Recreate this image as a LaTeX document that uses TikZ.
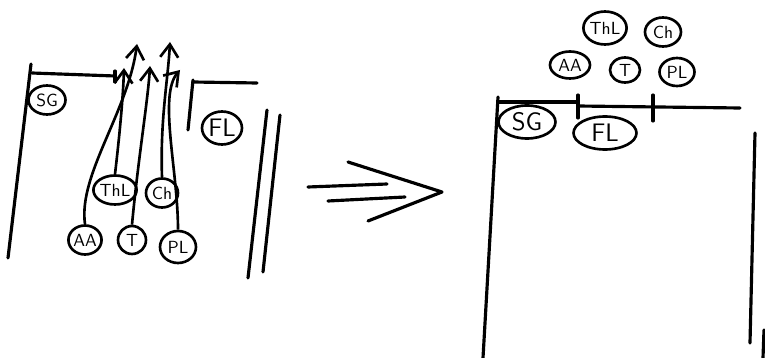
\documentclass[tikz,border=0pt]{standalone}
\usetikzlibrary{shapes.geometric, arrows.meta}
\begin{document}
\begin{tikzpicture}[
  x=0.02cm, y=-0.02cm,
  wall/.style={line width=1.8pt, line cap=round, line join=round},
  tok/.style={ellipse, draw, line width=1.5pt, inner sep=0pt,
              font=\sffamily, minimum width=6.4mm, minimum height=5.8mm},
  bigtok/.style={tok, font=\sffamily\Large},
  mv/.style={-{Straight Barb[length=2.6mm, width=3.6mm, line width=1.5pt]}, line width=1.5pt}
]
\useasboundingbox (0,0) rectangle (765,358);

% left: before
\draw[wall] (31,64) -- (8,258);
\draw[wall] (32,73) -- (115,76);
\draw[wall] (115,71) -- (115,82);
\draw[wall] (193,80) -- (188,130);
\draw[wall] (193,82) -- (257,83);
\draw[wall] (267,110) -- (248,278);
\draw[wall] (280,115) -- (263,272);

\node[tok, minimum width=7.4mm] (sgL) at (47,100) {SG};
\node[bigtok, minimum width=8mm, minimum height=6.6mm] (flL) at (222,128) {FL};
\node[tok] (thlL) at (115,190) {ThL};
\node[tok] (chL)  at (162,193) {Ch};
\node[tok, minimum width=6mm] (aaL) at (85,240) {AA};
\node[tok, minimum width=5.6mm, minimum height=5.6mm] (tL) at (132,240) {T};
\node[tok, minimum width=7.2mm, minimum height=6.4mm] (plL) at (178,247) {PL};

\coordinate (aaOut)  at (137,44);
\coordinate (thlOut) at (124,68);
\coordinate (tOut)   at (150,66);
\coordinate (chOut)  at (170,42);
\coordinate (plOut)  at (180,70);

\draw[mv] (aaL.north) .. controls (78,175) and (128,112) .. (aaOut);
\draw[mv] (thlL.north) .. controls (119,140) and (123,100) .. (thlOut);
\draw[mv] (tL.north) .. controls (138,160) and (148,100) .. (tOut);
\draw[mv] (chL.north) .. controls (160,120) and (168,80) .. (chOut);
\draw[mv] (plL.north) .. controls (178,170) and (158,95) .. (plOut);

% middle
\draw[wall] (308,187) -- (387,184);
\draw[wall] (328,201) -- (405,197);
\draw[wall] (348,162) -- (442,192) -- (368,221);

% right: after
\draw[wall] (498,97) -- (483,358);
\draw[wall] (498,102) -- (578,102);
\draw[wall] (578,106) -- (740,108);
\draw[wall] (578,95) -- (578,118);
\draw[wall] (653,95) -- (653,121);
\draw[wall] (755,133) -- (750,343);
\draw[wall] (764,330) -- (763,358);

\node[tok, minimum width=6.6mm, minimum height=6.6mm] (thlR) at (605,28) {ThL};
\node[tok, minimum width=7.2mm] (chR)  at (663,32) {Ch};
\node[tok, minimum width=8mm, minimum height=5.4mm] (aaR) at (570,65) {AA};
\node[tok, minimum width=6mm, minimum height=5mm] (tR) at (625,70) {T};
\node[tok, minimum width=7mm, minimum height=5.6mm] (plR) at (677,72) {PL};
\node[bigtok, minimum width=11.4mm, minimum height=6.6mm] (sgR) at (527,122) {SG};
\node[bigtok, minimum width=12.6mm, minimum height=6.6mm] (flR) at (605,133) {FL};
\end{tikzpicture}
\end{document}
